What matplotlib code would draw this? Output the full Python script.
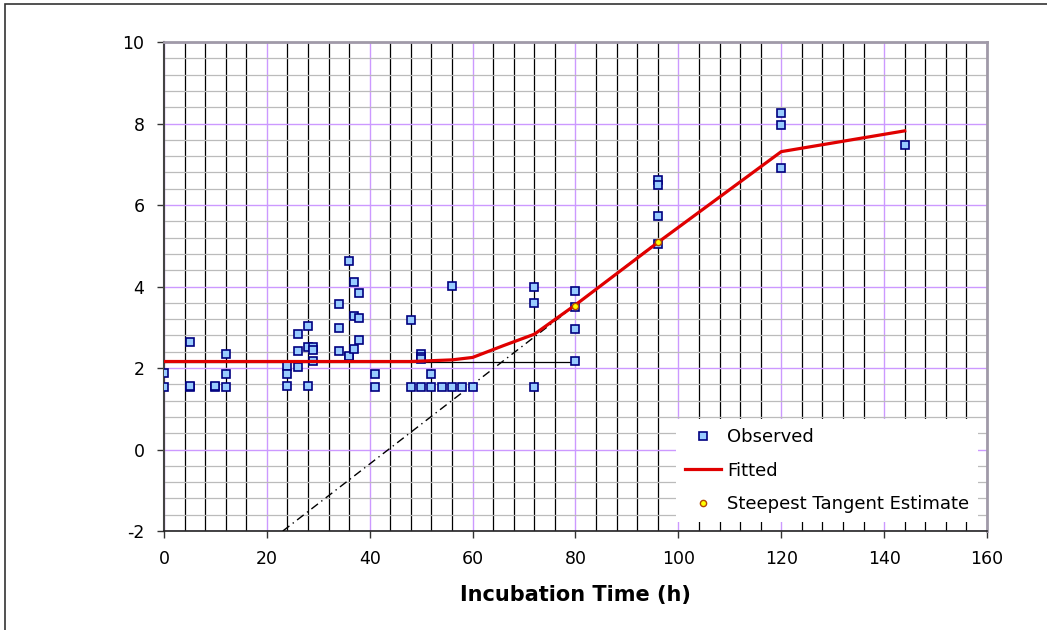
import matplotlib
matplotlib.use('Agg')
import matplotlib.pyplot as plt
from matplotlib.ticker import MultipleLocator
from matplotlib.patches import Rectangle

plt.rcParams['axes.unicode_minus'] = False

# Observed data (time in h, value)
obs_time = [0, 0, 5, 5, 5, 10, 10, 12, 12, 12,
            24, 24, 24, 26, 26, 26, 28, 28, 28, 29, 29, 29,
            34, 34, 34, 36, 36, 36, 37, 37, 37, 38, 38, 38,
            41, 41, 48, 48, 50, 50, 50, 50, 52, 52, 54, 56, 56, 58, 60,
            72, 72, 72, 80, 80, 80, 80, 96, 96, 96, 96, 120, 120, 120, 144]
obs_value = [1.87, 1.54, 2.65, 1.54, 1.56, 1.54, 1.56, 2.35, 1.86, 1.54,
             2.05, 1.86, 1.56, 2.83, 2.41, 2.03, 3.02, 2.52, 1.56, 2.52, 2.45, 2.17,
             3.57, 2.99, 2.41, 4.63, 2.26, 2.30, 4.10, 3.28, 2.47, 3.84, 3.23, 2.68,
             1.86, 1.54, 3.17, 1.54, 2.35, 2.28, 2.22, 1.54, 1.86, 1.54, 1.54, 4.02, 1.54, 1.54, 1.54,
             3.99, 3.60, 1.54, 3.88, 3.50, 2.96, 2.17, 6.61, 6.50, 5.72, 5.05, 8.27, 7.96, 6.91, 7.47]

# Fitted curve
fit_time = [0, 48, 56, 60, 66, 72, 80, 96, 120, 144]
fit_value = [2.16, 2.16, 2.20, 2.26, 2.55, 2.83, 3.55, 5.08, 7.31, 7.82]

# Steepest tangent estimate points
tan_time = [80, 96]
tan_value = [3.52, 5.10]

# tangent line and lag level line
tangent_x = [23.1, 96]
tangent_y = [-2.0, 5.10]
lag_x = [0, 80]
lag_y = [2.16, 2.16]

fig = plt.figure(figsize=(10.47, 6.30), dpi=100)
ax = fig.add_axes([0.1566, 0.1571, 0.7861, 0.7762])

ax.set_xlim(0, 160)
ax.set_ylim(-2, 10)
ax.xaxis.set_major_locator(MultipleLocator(20))
ax.xaxis.set_minor_locator(MultipleLocator(4))
ax.yaxis.set_major_locator(MultipleLocator(2))
ax.yaxis.set_minor_locator(MultipleLocator(0.4))

# grid lines (black every 4 h, purple majors, gray minor horizontals)
ax.set_axisbelow(True)
ax.grid(which='minor', axis='x', color='black', lw=0.9)
ax.grid(which='minor', axis='y', color='#bbbbbb', lw=0.9)
ax.grid(which='major', color='#cc99ff', lw=1.0)

ax.plot(lag_x, lag_y, color='black', lw=0.9, zorder=3)
ax.plot(tangent_x, tangent_y, color='black', lw=1.0, dashes=(6, 3, 1, 3), zorder=3)

ax.plot(obs_time, obs_value, linestyle='none', marker='s', ms=5.5,
        mfc='#99ccff', mec='#000080', mew=1.2, label='Observed', zorder=4)
ax.plot(fit_time, fit_value, color='#e00000', lw=2.3, label='Fitted', zorder=5)
ax.plot(tan_time, tan_value, linestyle='none', marker='o', ms=4.5,
        mfc='#ffff00', mec='#b34700', mew=1.0, label='Steepest Tangent Estimate', zorder=6)

ax.tick_params(which='major', direction='out', length=5, width=1, labelsize=12.5, color='#333333')
ax.tick_params(axis='x', which='major', pad=9)
ax.tick_params(axis='y', which='major', pad=9)
ax.tick_params(which='minor', length=0)

ax.spines['left'].set_color('#444444')
ax.spines['bottom'].set_color('#222222')
ax.spines['left'].set_linewidth(1.5)
ax.spines['bottom'].set_linewidth(1.2)
for s in ['top', 'right']:
    ax.spines[s].set_color('#a09aa8')
    ax.spines[s].set_linewidth(2)

ax.set_xlabel('Incubation Time (h)', fontsize=15, fontweight='bold', labelpad=12)

leg = ax.legend(loc='lower right', bbox_to_anchor=(1.0, 0.0), fontsize=13,
                frameon=True, fancybox=False, framealpha=1, edgecolor='none',
                handlelength=2.0, labelspacing=0.85, borderpad=0.5, handletextpad=0.3)
leg.set_zorder(10)

# outer border of the chart
fig.patches.append(Rectangle((5 / 1047, -0.01), 1.0, 1 - 4.5 / 630 + 0.01,
                             transform=fig.transFigure, fill=False,
                             edgecolor='#333333', lw=1.2))

fig.savefig('out.png', dpi=100)
